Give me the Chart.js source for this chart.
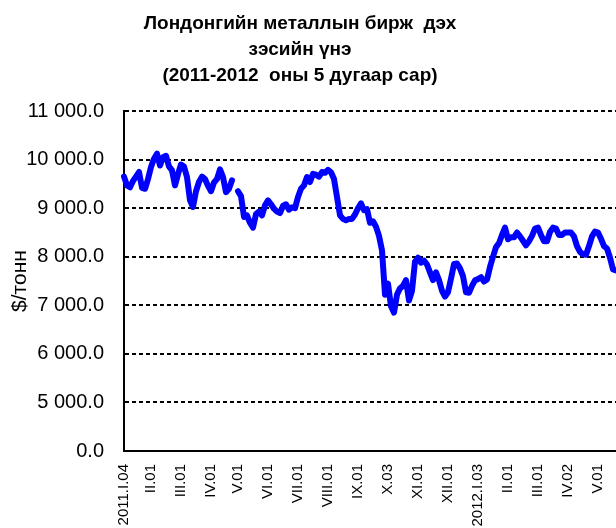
<!DOCTYPE html>
<html>
<head>
<meta charset="utf-8">
<script src="https://cdn.jsdelivr.net/npm/chart.js@4"></script>
<style>
  body { margin: 0; background: #fff; }
  #box { width: 616px; height: 528px; }
</style>
</head>
<body>
<div id="box"><canvas id="copper" width="616" height="528"></canvas></div>
<script>
// LME copper price, $/tonne, sampled about every second trading day
const prices = [
  9650, 9470, 9430, 9560, 9650, 9745, 9420, 9400, 9600, 9850,
  10020, 10123, 9880, 10050, 10080, 9860, 9780, 9470, 9700, 9900,
  9860, 9640, 9162, 9025, 9350, 9540, 9650, 9600, 9460, 9350,
  9530, 9600, 9800, 9640, 9330, 9400, 9574, null, 9350, 9250,
  8820, 8850, 8700, 8600, 8880, 8930, 8850, 9060, 9160, 9080,
  8990, 8930, 8900, 9050, 9080, 8970, 9020, 9000, 9230, 9400,
  9470, 9640, 9540, 9710, 9690, 9650, 9745, 9730, 9790, 9740,
  9600, 9230, 8853, 8780, 8750, 8780, 8780, 8870, 9000, 9100,
  8960, 8980, 8700, 8730, 8620, 8430, 8133, 7220, 7448, 6980,
  6850, 7220, 7350, 7400, 7520, 7100, 7300, 7900, 7980, 7880,
  7920, 7840, 7680, 7520, 7680, 7520, 7300, 7180, 7270, 7550,
  7850, 7860, 7760, 7600, 7270, 7260, 7400, 7515, 7540, 7580,
  7490, 7530, 7790, 8000, 8200, 8280, 8450, 8600, 8360, 8400,
  8400, 8500, 8420, 8330, 8236, 8320, 8430, 8580, 8600, 8450,
  8320, 8320, 8510, 8600, 8580, 8450, 8450, 8500, 8500, 8500,
  8420, 8220, 8100, 8050, 8040, 8220, 8420, 8520, 8500, 8370,
  8220, 8170, 7980, 7740, 7720
];
// month captions and the sample they sit under
const monthNames = ["2011.I.04", "II.01", "III.01", "IV.01", "V.01", "VI.01", "VII.01",
  "VIII.01", "IX.01", "X.03", "XI.01", "XII.01", "2012.I.03", "II.01", "III.01", "IV.02", "V.01"];
const monthIndex = [0, 9, 19, 29, 38, 48, 58, 68, 78, 88, 98, 108, 118, 128, 138, 148, 158];
const yTicks = [4000, 5000, 6000, 7000, 8000, 9000, 10000, 11000];

let labels = prices.map(() => "");
monthIndex.forEach((idx, k) => { labels[idx] = monthNames[k]; });

const fontFam = "'Liberation Sans', Arial, sans-serif";

// bottom of the axis is shown as 0.0 (broken scale)
function fmt(v) {
  if (v === 4000) return "0.0";
  return v.toFixed(1).replace(/\B(?=(\d{3})+(?!\d))/g, " ");
}

new Chart(document.getElementById("copper"), {
  type: "line",
  data: {
    labels: labels,
    datasets: [{
      data: prices,
      borderColor: "#0000ff",
      borderWidth: 6,
      pointRadius: 0,
      tension: 0,
      borderJoinStyle: "round",
      borderCapStyle: "round",
      spanGaps: false
    }]
  },
  options: {
    responsive: false,
    animation: false,
    // negative left padding pulls the title a bit left of the canvas centre
    layout: { padding: { left: -16, right: 0, top: 0, bottom: 0 } },
    plugins: {
      legend: { display: false },
      tooltip: { enabled: false },
      title: {
        display: true,
        text: ["Лондонгийн металлын бирж  дэх", "зэсийн үнэ", "(2011-2012  оны 5 дугаар сар)"],
        color: "#000",
        font: { family: fontFam, size: 19, weight: "bold", lineHeight: 1.37 },
        padding: { top: 11, bottom: 22 }
      }
    },
    scales: {
      x: {
        afterFit: (s) => { s.height = 77; s.paddingLeft = 0; s.paddingRight = 0; },
        grid: { display: false, drawTicks: false },
        border: { display: true, color: "#000", width: 2 },
        ticks: {
          autoSkip: false,
          maxRotation: 90,
          minRotation: 90,
          padding: 13,
          color: "#000",
          font: { family: fontFam, size: 15 }
        }
      },
      y: {
        min: 4000,
        max: 11000,
        afterFit: (s) => { s.width = 140; },
        afterBuildTicks: (s) => { s.ticks = yTicks.map(v => ({ value: v })); },
        grid: { color: "#000", lineWidth: 2, drawTicks: false },
        border: { display: true, color: "#000", width: 2, dash: [4, 3] },
        ticks: {
          padding: 20,
          color: "#000",
          font: { family: fontFam, size: 20 },
          callback: (v) => fmt(v)
        },
        title: {
          display: true,
          text: "$/тонн",
          color: "#000",
          font: { family: fontFam, size: 21 },
          padding: { top: 24, bottom: 0 }
        }
      }
    }
  }
});
</script>
</body>
</html>
